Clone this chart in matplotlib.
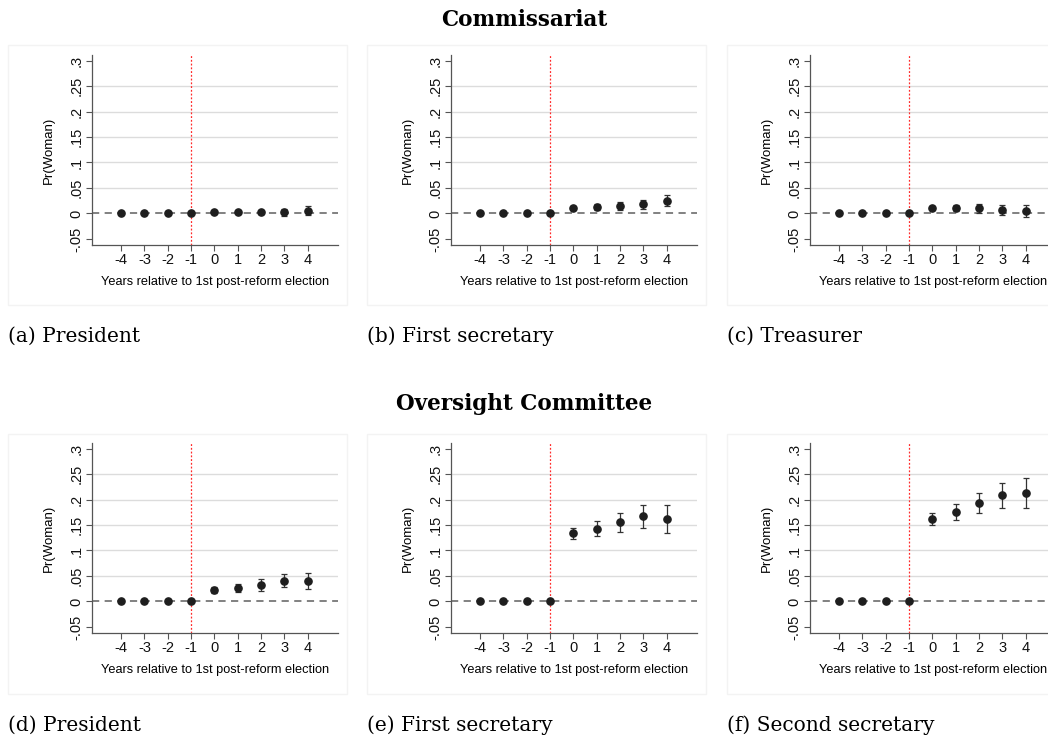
import matplotlib
matplotlib.use("Agg")
import matplotlib.pyplot as plt
from matplotlib.patches import Rectangle

years = [-4, -3, -2, -1, 0, 1, 2, 3, 4]
yticks = [-0.05, 0, 0.05, 0.1, 0.15, 0.2, 0.25, 0.3]
ytick_labels = ["-.05", "0", ".05", ".1", ".15", ".2", ".25", ".3"]

# Commissariat
est_a = [0, 0, 0, 0, 0.003, 0.003, 0.002, 0.002, 0.005]
err_a = [0, 0, 0, 0, 0.002, 0.002, 0.003, 0.007, 0.009]
est_b = [0, 0, 0, 0, 0.011, 0.012, 0.014, 0.018, 0.025]
err_b = [0, 0, 0, 0, 0.004, 0.006, 0.008, 0.009, 0.011]
est_c = [0, 0, 0, 0, 0.010, 0.010, 0.010, 0.006, 0.004]
err_c = [0, 0, 0, 0, 0.004, 0.006, 0.009, 0.010, 0.012]
# Oversight Committee
est_d = [0, 0, 0, 0, 0.023, 0.026, 0.032, 0.041, 0.040]
err_d = [0, 0, 0, 0, 0.006, 0.008, 0.012, 0.013, 0.016]
est_e = [0, 0, 0, 0, 0.134, 0.143, 0.155, 0.167, 0.162]
err_e = [0, 0, 0, 0, 0.011, 0.015, 0.019, 0.022, 0.027]
est_f = [0, 0, 0, 0, 0.162, 0.175, 0.193, 0.208, 0.213]
err_f = [0, 0, 0, 0, 0.012, 0.016, 0.020, 0.024, 0.029]

captions = ["(a) President", "(b) First secretary", "(c) Treasurer",
            "(d) President", "(e) First secretary", "(f) Second secretary"]
row_titles = ["Commissariat", "Oversight Committee"]
panels = [(est_a, err_a), (est_b, err_b), (est_c, err_c),
          (est_d, err_d), (est_e, err_e), (est_f, err_f)]

W, H = 1048, 740
fig = plt.figure(figsize=(W / 100, H / 100), dpi=100)
serif = ["DejaVu Serif", "Liberation Serif"]
sans = ["Liberation Sans", "DejaVu Sans"]

frame_x = [8, 367, 727]
axes_x = [92, 451, 810]
frame_top = [45, 434]
axes_top = [55, 443]

for row in range(2):
    fig.text(0.5, 1 - (20 + row * 384) / H, row_titles[row], ha="center", va="center",
             fontsize=15.5, fontweight="bold", family=serif)
    for col in range(3):
        i = row * 3 + col
        est, err = panels[i]
        fx, ft = frame_x[col], frame_top[row]
        fig.patches.append(Rectangle((fx / W, 1 - (ft + 260) / H), 339 / W, 260 / H,
                                     transform=fig.transFigure, fill=False,
                                     edgecolor="#f3f3f3", linewidth=1))
        ax = fig.add_axes([axes_x[col] / W, 1 - (axes_top[row] + 190) / H, 246 / W, 190 / H])
        ax.set_xlim(-5.25, 5.3)
        ax.set_ylim(-0.062, 0.311)
        for g in yticks[2:-1]:
            ax.axhline(g, color="#dcdcdc", lw=1, zorder=0)
        ax.axhline(0, color="#777777", lw=1.3, ls=(0, (4, 3)), zorder=1)
        ax.axvline(-1, color="#ff2a2a", lw=0.9, ls=(0, (1.5, 1.5)), zorder=1)
        ax.errorbar(years, est, yerr=err, fmt="o", color="#1e1e1e", ecolor="#333333",
                    markersize=5.2, elinewidth=0.9, capsize=2.5, capthick=0.9, zorder=3)
        ax.set_xticks(years)
        ax.set_xticklabels([str(y) for y in years], family=sans, fontsize=10.5)
        ax.set_yticks(yticks)
        ax.set_yticklabels(ytick_labels, family=sans, fontsize=10.5, rotation=90, va="center")
        ax.set_ylabel("Pr(Woman)", family=sans, fontsize=9.5, labelpad=11)
        ax.set_xlabel("Years relative to 1st post-reform election", family=sans,
                      fontsize=9.2, labelpad=6)
        for s in ["top", "right"]:
            ax.spines[s].set_visible(False)
        for s in ["left", "bottom"]:
            ax.spines[s].set_color("#555555")
            ax.spines[s].set_linewidth(0.9)
        ax.tick_params(colors="#555555", labelcolor="#111111", length=4, width=0.8, pad=2)
        ax.set_facecolor("none")
        fig.text(fx / W, 1 - (ft + 291) / H, captions[i], ha="left", va="center",
                 fontsize=14.5, family=serif)

fig.savefig("out.png", dpi=100)
